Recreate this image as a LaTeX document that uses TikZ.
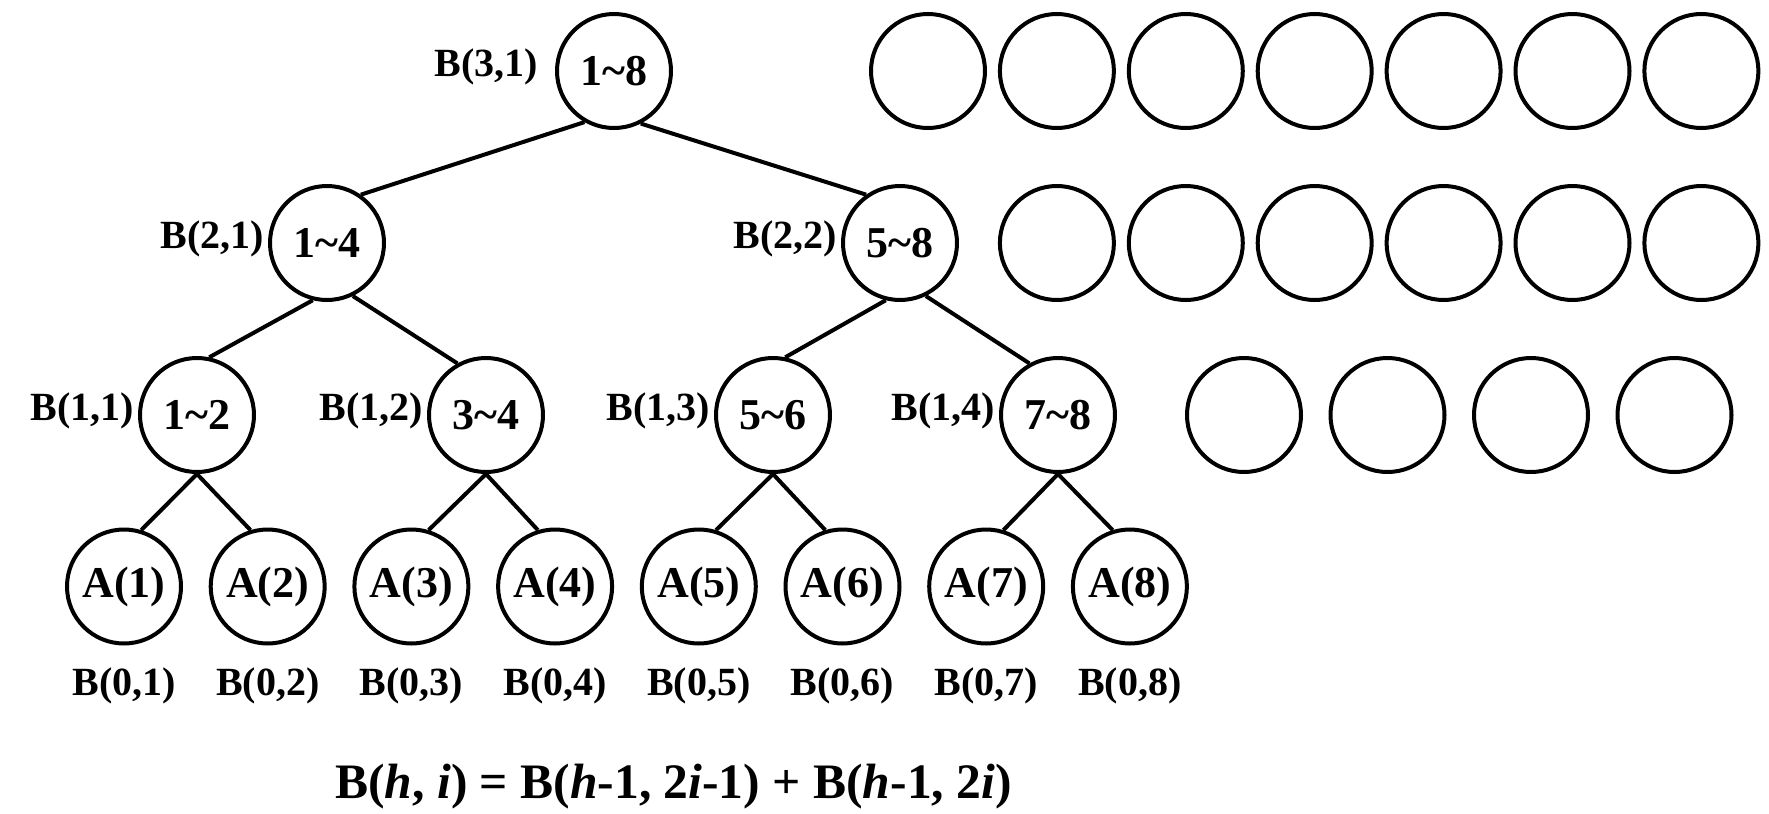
\documentclass[tikz,border=0pt]{standalone}
\usepackage{fontspec}
\setmainfont{Liberation Serif}
\usetikzlibrary{positioning}
\newcommand{\rng}[2]{#1\textasciitilde#2}
\tikzset{
    segtree/.style={x=0.5pt, y=-0.5pt, line width=2pt, node distance=1pt},
    cell/.style={draw, circle, minimum size=57pt, inner sep=0pt, font=\bfseries\fontsize{22}{22}\selectfont},
    tag/.style={inner sep=0pt, font=\bfseries\fontsize{20}{20}\selectfont},
    % the B(h,i) name sits just left of its circle, a little high
    lefttag/.style={tag, yshift=2pt},
}
\begin{document}
\begin{tikzpicture}[segtree]
    \useasboundingbox (0,0) rectangle (1769,814);

    % tree levels
    \node[cell] (root) at (614,71)  {\rng{1}{8}};
    \node[cell] (n21)  at (327,243) {\rng{1}{4}};
    \node[cell] (n22)  at (900,243) {\rng{5}{8}};
    \node[cell] (n11)  at (197,415) {\rng{1}{2}};
    \node[cell] (n12)  at (486,415) {\rng{3}{4}};
    \node[cell] (n13)  at (773,415) {\rng{5}{6}};
    \node[cell] (n14)  at (1058,415) {\rng{7}{8}};

    \node[lefttag, left=7.5pt of root] (broot) {B(3,1)};
    \node[lefttag, left=of n21] (b21) {B(2,1)};
    \node[lefttag, left=of n22] (b22) {B(2,2)};
    \node[lefttag, left=of n11] (b11) {B(1,1)};
    \node[lefttag, left=of n12] (b12) {B(1,2)};
    \node[lefttag, left=of n13] (b13) {B(1,3)};
    \node[lefttag, left=of n14] (b14) {B(1,4)};

    % leaves
    \foreach \i in {1,...,8} {
        \pgfmathsetmacro{\xa}{124+143.7*(\i-1)}
        \node[cell] (a\i) at (\xa,586.5) {A(\i)};
        \node[tag, below=10pt of a\i] (b0\i) {B(0,\i)};
    }

    % edges
    \draw (root.240) -- (n21.55);
    \draw (root.297) -- (n22.125);
    \foreach \p/\l/\r in {n21/n11/n12, n22/n13/n14} {
        \draw (\p.256) -- (\l.78);
        \draw (\p.296) -- (\r.119);
    }
    \foreach \p/\l/\r in {n11/a1/a2, n12/a3/a4, n13/a5/a6, n14/a7/a8} {
        \draw (\p.south) -- (\l.73);
        \draw (\p.south) -- (\r.107);
    }

    % empty cells on the right
    \foreach \k in {0,...,6}
        \node[cell] (e1\k) at ({928+128.9*\k},71) {};
    \foreach \k in {1,...,6}
        \node[cell] (e2\k) at ({928+128.9*\k},243) {};
    \foreach \k in {0,...,3}
        \node[cell] (e3\k) at ({1244+143.5*\k},415) {};

    \node[anchor=base, inner sep=0pt, font=\bfseries\fontsize{24.8}{24.8}\selectfont] (rule) at (673.5,798)
        {B(\textit{h}, \textit{i}) = B(\textit{h}-1, 2\textit{i}-1) + B(\textit{h}-1, 2\textit{i})};
\end{tikzpicture}
\end{document}
